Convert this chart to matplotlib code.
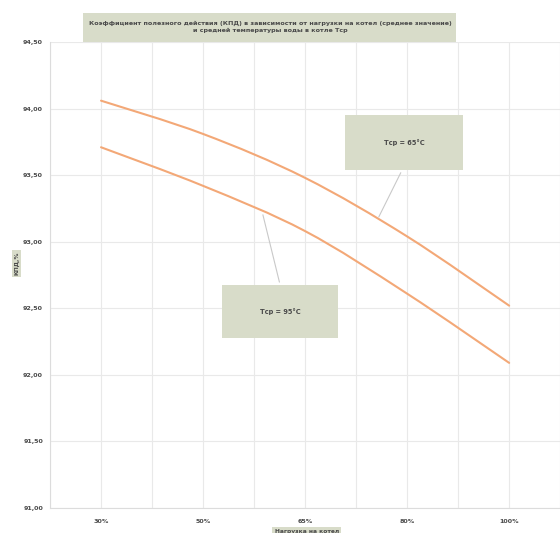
import matplotlib.pyplot as plt
import matplotlib.patches as patches
from matplotlib.path import Path
import numpy as np

# Boiler efficiency vs load, two mean water temperatures
loads = ['30%', '50%', '65%', '80%', '100%']
kpd_65 = [94.06, 93.81, 93.48, 93.04, 92.52]
kpd_95 = [93.71, 93.42, 93.08, 92.61, 92.09]
y_ticks = [91.0, 91.5, 92.0, 92.5, 93.0, 93.5, 94.0, 94.5]

title = ('Коэффициент полезного действия (КПД) в зависимости от нагрузки на котел (среднее значение)\n'
         'и средней температуры воды в котле Тср')

line_color = '#f3a877'
box_color = '#d8dcc9'
grid_color = '#e9e9e9'
text_color = '#4a4a4a'


def smooth_path(xs, ys):
    # Excel-style smoothed line: cubic Bezier through every point
    pts = np.column_stack([xs, ys]).astype(float)
    ext = np.vstack([pts[0], pts, pts[-1]])
    verts = [pts[0]]
    codes = [Path.MOVETO]
    for i in range(len(pts) - 1):
        p0, p1, p2, p3 = ext[i], ext[i + 1], ext[i + 2], ext[i + 3]
        verts += [p1 + (p2 - p0) / 6, p2 - (p3 - p1) / 6, p2]
        codes += [Path.CURVE4] * 3
    return Path(verts, codes)


fig = plt.figure(figsize=(5.6, 5.33), dpi=100)
ax = fig.add_axes([0.0893, 0.047, 0.911, 0.874])

x = np.arange(len(loads))
for series in (kpd_65, kpd_95):
    ax.add_patch(patches.PathPatch(smooth_path(x, series), facecolor='none',
                                   edgecolor=line_color, lw=1.5, capstyle='round'))

ax.set_xlim(-0.5, len(loads) - 0.5)
ax.set_ylim(y_ticks[0], y_ticks[-1])
ax.set_xticks(x)
ax.set_xticklabels(loads)
ax.set_xticks(np.arange(-0.5, len(loads), 0.5), minor=True)
ax.set_yticks(y_ticks)
ax.set_yticklabels([f'{v:.2f}'.replace('.', ',') for v in y_ticks])
ax.tick_params(axis='both', length=0, labelsize=4.6, labelcolor=text_color, pad=5)
ax.tick_params(axis='x', pad=8)
ax.tick_params(which='minor', length=0)
for lab in ax.get_xticklabels() + ax.get_yticklabels():
    lab.set_fontweight('bold')
ax.grid(True, which='both', axis='x', color=grid_color, lw=0.8)
ax.grid(True, which='major', axis='y', color=grid_color, lw=0.8)
ax.set_axisbelow(True)
for side in ['top', 'right']:
    ax.spines[side].set_visible(False)
for side in ['left', 'bottom']:
    ax.spines[side].set_color('#dcdcdc')
    ax.spines[side].set_linewidth(0.8)

# callout boxes with leader lines to each curve
callouts = [
    ('Тср = 65°C', kpd_65, 2.71, (0.578, 0.725, 0.232, 0.118), (0.69, 0.725)),
    ('Тср = 95°C', kpd_95, 1.58, (0.337, 0.365, 0.228, 0.114), (0.451, 0.479)),
]
for label, series, xa, (bx, by, bw, bh), anchor in callouts:
    ya = np.interp(xa, x, series)
    ax.annotate('', xy=(xa, ya), xycoords='data', xytext=anchor,
                textcoords='axes fraction',
                arrowprops=dict(arrowstyle='-', color='#c9c9c9', lw=0.8))
    ax.add_patch(patches.Rectangle((bx, by), bw, bh, transform=ax.transAxes,
                                   facecolor=box_color, edgecolor='none', zorder=5))
    ax.text(bx + bw / 2, by + bh / 2, label, transform=ax.transAxes,
            ha='center', va='center', fontsize=4.8, fontweight='bold',
            color=text_color, zorder=6)

# title block
fig.patches.append(patches.Rectangle((0.148, 0.921), 0.666, 0.054,
                                     transform=fig.transFigure,
                                     facecolor=box_color, edgecolor='none'))
fig.text(0.482, 0.949, title, ha='center', va='center', fontsize=4.6,
         fontweight='bold', color=text_color, linespacing=1.5)

# axis titles
fig.text(0.030, 0.506, 'КПД,%', rotation=90, ha='center', va='center',
         fontsize=4.3, fontweight='bold', color=text_color,
         bbox=dict(boxstyle='square,pad=0.3', facecolor=box_color, edgecolor='none'))
fig.text(0.548, 0.002, 'Нагрузка на котел', ha='center', va='center',
         fontsize=4.3, fontweight='bold', color=text_color,
         bbox=dict(boxstyle='square,pad=0.4', facecolor=box_color, edgecolor='none'))

fig.savefig('out.png', dpi=100)
